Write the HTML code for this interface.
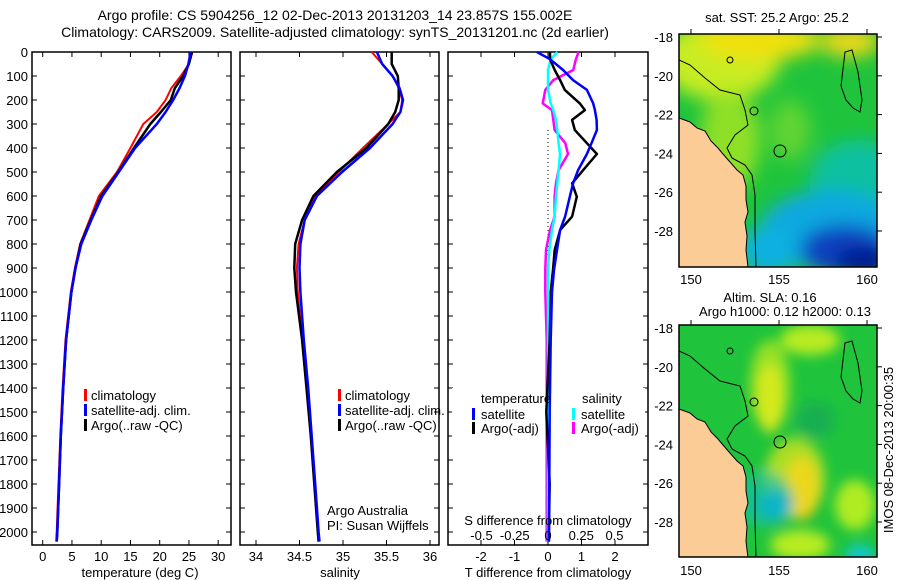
<!DOCTYPE html>
<html><head><meta charset="utf-8"><style>
html,body{margin:0;padding:0;background:#fff;}
svg{display:block;font-family:"Liberation Sans",sans-serif;}
text{font-size:13px;fill:#000;}
</style></head><body>
<svg id="chart" width="900" height="580" viewBox="0 0 900 580">
<defs>
<filter id="blur" x="-20%" y="-20%" width="140%" height="140%"><feGaussianBlur stdDeviation="9"/></filter>
<filter id="blur2" x="-20%" y="-20%" width="140%" height="140%"><feGaussianBlur stdDeviation="6"/></filter>
<clipPath id="clip1"><rect x="679" y="34" width="198" height="233"/></clipPath>
<clipPath id="clip2"><rect x="679" y="325" width="198" height="232"/></clipPath>
</defs>
<text x="335" y="20" text-anchor="middle" font-size="14" style="font-size:14px">Argo profile: CS 5904256_12 02-Dec-2013 20131203_14 23.857S 155.002E</text>
<text x="335" y="37" text-anchor="middle" style="font-size:14px">Climatology: CARS2009. Satellite-adjusted climatology: synTS_20131201.nc (2d earlier)</text>
<g id="panels"></g>
<g id="maps"></g>
<text transform="translate(893,450) rotate(-90)" text-anchor="middle">IMOS 08-Dec-2013 20:00:35</text>
</svg>
<script>
// ---------- data ----------
const depths = [0,50,100,150,200,250,300,400,500,600,700,800,900,1000,1200,1400,1600,1800,2000,2040];
const tempClim = [25.6,25.0,23.6,22.0,21.0,19.5,17.2,15.0,12.7,9.6,8.0,6.4,5.5,4.8,3.9,3.4,3.0,2.7,2.4,2.3];
const tempSat  = [25.3,24.9,24.3,23.4,22.3,21.0,19.5,15.8,13.0,10.2,8.3,6.6,5.6,4.9,4.0,3.5,3.1,2.8,2.5,2.4];
const tempArgo = [25.5,25.0,24.0,22.6,21.9,20.2,18.4,15.6,12.9,10.0,8.2,6.5,5.6,4.9,4.0,3.5,3.1,2.8,2.5,2.4];
const salClim = [35.33,35.45,35.57,35.64,35.68,35.66,35.52,35.23,34.95,34.68,34.56,34.49,34.47,34.48,34.53,34.58,34.63,34.67,34.71,34.72];
const salSat  = [35.39,35.45,35.57,35.65,35.69,35.66,35.57,35.31,34.99,34.70,34.56,34.51,34.50,34.51,34.55,34.60,34.64,34.68,34.72,34.73];
const salArgo = [35.56,35.56,35.63,35.64,35.64,35.60,35.52,35.27,34.93,34.66,34.53,34.45,34.44,34.46,34.53,34.58,34.63,34.67,34.71,34.72];
const diffDepths = [0,30,75,117,158,214,242,283,325,380,425,492,547,603,686,742,825,908,1000,1200,1500,1800,2040];
const tDiffSat  = [-0.33,0.06,0.45,0.75,1.16,1.35,1.40,1.45,1.46,1.30,1.16,0.90,0.75,0.65,0.51,0.36,0.27,0.18,0.12,0.08,0.05,0.04,0.03];
const tDiffArgo = [0.06,0.06,0.20,0.36,0.50,0.95,1.10,0.72,0.80,1.16,1.46,1.05,0.72,0.86,0.72,0.36,0.20,0.15,0.08,0.05,-0.05,0.05,0.02];
const sDiffSat  = [0.07,0.02,0.00,0.00,0.00,0.02,0.04,0.06,0.07,0.08,0.09,0.08,0.07,0.06,0.05,0.03,0.01,0.00,0.00,0.00,0.00,0.00,0.00];
const sDiffArgo = [0.23,0.21,0.19,0.04,-0.02,-0.04,0.03,0.04,0.05,0.13,0.15,0.08,0.06,0.05,0.05,0.015,-0.015,-0.02,-0.02,-0.01,-0.01,-0.01,-0.01];
const depthTicks = [0,100,200,300,400,500,600,700,800,900,1000,1100,1200,1300,1400,1500,1600,1700,1800,1900,2000];
const tempTicks = [0,5,10,15,20,25,30];
const salTicks = [34,34.5,35,35.5,36];
const tDiffTicks = [-2,-1,0,1,2];
const sDiffTicks = [-0.5,-0.25,0,0.25,0.5];

// ---------- helpers ----------
const NS='http://www.w3.org/2000/svg';
const svg=document.getElementById('chart');
const panelsG=document.getElementById('panels');
function mk(tag,attrs,parent){const e=document.createElementNS(NS,tag);for(const k in attrs)e.setAttribute(k,attrs[k]);(parent||panelsG).appendChild(e);return e;}
const yD = d => 52 + d*0.24;
const xT = v => 42.7 + v*5.85;
const xS = v => 256 + (v-34)*87;
const xTd = v => 548 + v*33.5;
const xSd = v => 548 + v*133;
function line(xs,ys,fx,color,w,name){
  const pts=xs.map((v,i)=>fx(v).toFixed(1)+','+yD(ys[i]).toFixed(1)).join(' ');
  const p=mk('polyline',{points:pts,fill:'none',stroke:color,'stroke-width':w,'stroke-linejoin':'round'});
  
  
  return p;
}
function frame(x0,x1,name){
  const r=mk('rect',{x:x0,y:52,width:x1-x0,height:493,fill:'none',stroke:'#000','stroke-width':1.5});
  
  
  depthTicks.forEach(d=>{mk('line',{x1:x0,x2:x0+5,y1:yD(d),y2:yD(d),stroke:'#000'});mk('line',{x1:x1-5,x2:x1,y1:yD(d),y2:yD(d),stroke:'#000'});});
}
function xTicks(ticks,fx,fmt,name,x0,x1){
  ticks.forEach(t=>{const x=fx(t);
    mk('line',{x1:x,x2:x,y1:52,y2:57,stroke:'#000'});mk('line',{x1:x,x2:x,y1:540,y2:545,stroke:'#000'});
    const tx=mk('text',{x:x,y:561,'text-anchor':'middle'});tx.textContent=fmt(t);
    
    
  });
}
function label(x,y,txt,name,anchor){const t=mk('text',{x:x,y:y,'text-anchor':anchor||'start'});t.textContent=txt;
  
  
  return t;}

// depth labels
depthTicks.forEach(d=>{const t=mk('text',{x:28,y:yD(d)+5,'text-anchor':'end'});t.textContent=d;
  
  });

// panel 1 temperature
frame(32,231,'temperature-panel-frame');
xTicks(tempTicks,xT,v=>v,'temperature-tick-label');
label(140,577,'temperature (deg C)','temperature-axis-title','middle');
line(tempClim,depths,xT,'#f00',2,'temperature-climatology-line');
line(tempArgo,depths,xT,'#000',2.5,'temperature-argo-line');
line(tempSat,depths,xT,'#00f',2.5,'temperature-satellite-line');
[['#f00','climatology'],['#00f','satellite-adj. clim.'],['#000','Argo(..raw -QC)']].forEach((l,i)=>{
  const y=398+i*15; mk('rect',{x:84,y:y-9,width:3,height:12,fill:l[0]});
  label(91,y+2,l[1],'temperature-legend-entry');
});

// panel 2 salinity
frame(240,439,'salinity-panel-frame');
xTicks(salTicks,xS,v=>v,'salinity-tick-label');
label(340,577,'salinity','salinity-axis-title','middle');
line(salClim,depths,xS,'#f00',2,'salinity-climatology-line');
line(salArgo,depths,xS,'#000',2.5,'salinity-argo-line');
line(salSat,depths,xS,'#00f',2.5,'salinity-satellite-line');
[['#f00','climatology'],['#00f','satellite-adj. clim.'],['#000','Argo(..raw -QC)']].forEach((l,i)=>{
  const y=398+i*15; mk('rect',{x:338,y:y-9,width:3,height:12,fill:l[0]});
  label(345,y+2,l[1],'salinity-legend-entry');
});
label(327,515,'Argo Australia','argo-australia-label');
label(327,530,'PI: Susan Wijffels','pi-label');

// panel 3 differences
frame(448,648,'difference-panel-frame');
xTicks(tDiffTicks,xTd,v=>v,'t-difference-tick-label');
label(548,577,'T difference from climatology','t-difference-axis-title','middle');
mk('line',{x1:548,x2:548,y1:130,y2:545,stroke:'#000','stroke-dasharray':'1,3'});
line(sDiffArgo,diffDepths,xSd,'#f0f',2.5,'salinity-diff-argo-line');
line(sDiffSat,diffDepths,xSd,'#0ff',2.5,'salinity-diff-satellite-line');
line(tDiffArgo,diffDepths,xTd,'#000',2.5,'temperature-diff-argo-line');
line(tDiffSat,diffDepths,xTd,'#00f',2.5,'temperature-diff-satellite-line');
mk('rect',{x:452,y:388,width:90,height:52,fill:'#fff'});
mk('rect',{x:555,y:388,width:90,height:52,fill:'#fff'});
label(481,403,'temperature','diff-legend-temperature-heading');
label(582,403,'salinity','diff-legend-salinity-heading');
[['#00f','satellite',472,417],['#000','Argo(-adj)',472,431],['#0ff','satellite',572,417],['#f0f','Argo(-adj)',572,431]].forEach(l=>{
  mk('rect',{x:l[2],y:l[3]-9,width:3,height:12,fill:l[0]});
  label(l[2]+9,l[3]+2,l[1],'diff-legend-entry');
});
label(548,525,'S difference from climatology','s-difference-axis-title','middle');
sDiffTicks.forEach(t=>{const tx=mk('text',{x:xSd(t),y:540,'text-anchor':'middle'});tx.textContent=t;
  
  });

// ---------- maps ----------
const mapsG=document.getElementById('maps');
const land='M679,118 L690,122 L697,128 L705,131 L711,141 L718,148 L723,154 L730,162 L737,170 L743,175 L746,186 L746,200 L748,212 L745,222 L747,236 L746,250 L748,267 L679,267 Z';
const contour1='M679,60 L690,65 L705,78 L720,90 L740,95 L745,110 L748,125 L735,135 L727,148 L732,158 L745,165 L752,175 L755,195 L755,230 L756,267';
function map(off,name,clip,sst){
  const g=mk('g',{'clip-path':'url(#'+clip+')'},mapsG);
  
  
  const sh=s=>s.replace(/(\d+),(\d+)/g,(m,a,b)=>a+','+(+b+off));
  if(sst){
    mk('rect',{x:679,y:34+off,width:198,height:233,fill:'#1fc43c'},g);
    const b=mk('g',{filter:'url(#blur)'},g);
    mk('ellipse',{cx:720,cy:60,rx:60,ry:40,fill:'#c8ec20'},b);
    mk('ellipse',{cx:760,cy:40,rx:60,ry:20,fill:'#f0e010'},b);
    mk('ellipse',{cx:850,cy:42,rx:30,ry:15,fill:'#f0d818'},b);
    mk('ellipse',{cx:730,cy:140,rx:30,ry:50,fill:'#8ee028'},b);
    mk('ellipse',{cx:790,cy:130,rx:20,ry:30,fill:'#60d430'},b);
    mk('ellipse',{cx:860,cy:180,rx:50,ry:40,fill:'#10c0a0'},b);
    mk('ellipse',{cx:830,cy:230,rx:70,ry:40,fill:'#10a8e0'},b);
    mk('ellipse',{cx:770,cy:250,rx:30,ry:25,fill:'#10b0e0'},b);
    mk('ellipse',{cx:845,cy:250,rx:45,ry:25,fill:'#1040c0'},b);
    mk('ellipse',{cx:865,cy:262,rx:30,ry:15,fill:'#001890'},b);
  } else {
    mk('rect',{x:679,y:325,width:198,height:232,fill:'#1fc43c'},g);
    const b=mk('g',{filter:'url(#blur2)'},g);
    mk('ellipse',{cx:770,cy:398,rx:14,ry:35,fill:'#f0e020'},b);
    mk('ellipse',{cx:770,cy:385,rx:20,ry:45,fill:'#c8ec20','opacity':0.7},b);
    mk('ellipse',{cx:802,cy:488,rx:18,ry:32,fill:'#f0b010'},b);
    mk('ellipse',{cx:795,cy:478,rx:30,ry:40,fill:'#e8e820','opacity':0.7},b);
    mk('ellipse',{cx:775,cy:505,rx:18,ry:16,fill:'#10a8e0'},b);
    mk('ellipse',{cx:763,cy:499,rx:30,ry:28,fill:'#10c0b0','opacity':0.6},b);
    mk('ellipse',{cx:810,cy:340,rx:30,ry:15,fill:'#b8ec20'},b);
    mk('ellipse',{cx:855,cy:505,rx:20,ry:25,fill:'#b0ec20'},b);
    mk('ellipse',{cx:800,cy:545,rx:30,ry:15,fill:'#b8ec20'},b);
    mk('ellipse',{cx:860,cy:555,rx:15,ry:10,fill:'#10c8d0'},b);
    mk('ellipse',{cx:815,cy:420,rx:20,ry:18,fill:'#10a060','opacity':0.6},b);
  }
  mk('path',{d:sh(land),fill:'#fccc96',stroke:'#000','stroke-width':1},g);
  mk('path',{d:sh(contour1),fill:'none',stroke:'#000','stroke-width':1},g);
  mk('path',{d:sh('M841,86 L845,52 L852,50 L858,72 L862,100 L860,112 L853,108 L846,100 Z'),fill:'none',stroke:'#000'},g);
  mk('circle',{cx:780,cy:151+off,r:6,fill:'none',stroke:'#000'},g);
  mk('circle',{cx:754,cy:111+off,r:4,fill:'none',stroke:'#000'},g);
  mk('circle',{cx:730,cy:60+off,r:3,fill:'none',stroke:'#000'},g);
  const fr=mk('rect',{x:679,y:34+off,width:198,height:off?232:233,fill:'none',stroke:'#000','stroke-width':1.5},mapsG);
  const latY=[-18,-20,-22,-24,-26,-28];
  latY.forEach(l=>{const y=37+off+(-18-l)*19.4;
    const t=mk('text',{x:673,y:y+5,'text-anchor':'end'},mapsG);t.textContent=l;
    
    
    mk('line',{x1:877,x2:882,y1:y,y2:y,stroke:'#000'},mapsG);});
  [150,155,160].forEach(l=>{const x=691+(l-150)*17.6;
    const t=mk('text',{x:x,y:284+off,'text-anchor':'middle'},mapsG);t.textContent=l;
    
    
    mk('line',{x1:x,x2:x,y1:29+off,y2:34+off,stroke:'#000'},mapsG);});
}
map(0,'sst-map','clip1',true);
map(291,'sla-map','clip2',false);
function mlabel(x,y,t,n){const e=mk('text',{x:x,y:y,'text-anchor':'middle'},mapsG);e.textContent=t;
  
  }
mlabel(777,22,'sat. SST: 25.2 Argo: 25.2','sst-map-title');
mlabel(770,302,'Altim. SLA: 0.16','sla-map-title');
mlabel(785,316,'Argo h1000: 0.12 h2000: 0.13','sla-map-subtitle');
</script>
</body></html>
